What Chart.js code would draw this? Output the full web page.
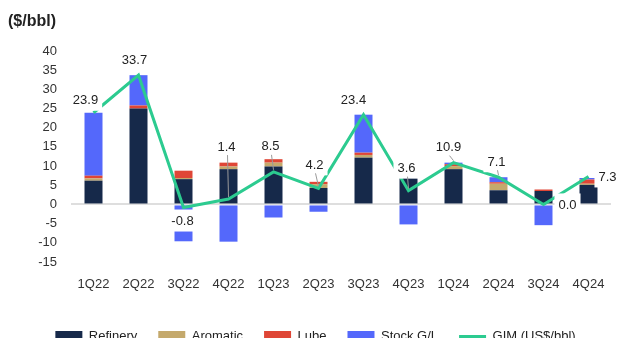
<!DOCTYPE html>
<html>
<head>
<meta charset="utf-8">
<script src="https://cdn.jsdelivr.net/npm/chart.js@4.4.0/dist/chart.umd.min.js"></script>
<style>
  html, body { margin: 0; padding: 0; background: #fff; overflow: hidden; }
  #wrap { position: relative; width: 620px; height: 353px; }
</style>
</head>
<body>
<div id="wrap"><canvas id="chart" width="620" height="353"></canvas></div>
<script>
// ---------- DATA ----------
const quarters = ["1Q22", "2Q22", "3Q22", "4Q22", "1Q23", "2Q23", "3Q23", "4Q23", "1Q24", "2Q24", "3Q24", "4Q24"];
const refinery = [6.2, 25.0, 6.6, 9.2, 9.9, 4.3, 12.2, 7.0, 9.2, 3.7, 3.5, 5.1];
const aromatic = [0.6, 0.0, 0.3, 0.7, 1.0, 1.0, 0.7, 0.0, 0.8, 1.7, 0.0, 0.3];
const lube = [0.7, 0.8, 1.9, 1.0, 0.9, 0.6, 0.6, 0.0, 0.5, 0.4, 0.4, 1.1];
const stockGL = [16.4, 7.9, -9.6, -9.7, -3.4, -1.9, 9.9, -5.2, 0.4, 1.3, -5.4, 0.4];
const gim = [23.9, 33.7, -0.8, 1.4, 8.5, 4.2, 23.4, 3.6, 10.9, 7.1, 0.0, 7.3];
const yTicks = [-15, -10, -5, 0, 5, 10, 15, 20, 25, 30, 35, 40];

// label placement relative to each GIM point (px)
const labelOffsets = [[-8, -13], [-4, -16], [-1, 13], [-2, -53], [-3, -26], [-4, -24],
                      [-10, -15], [-2, -23], [-5, -16], [-2, -16], [24, 0], [19, 0]];
const hasLeader = [false, false, false, true, true, true, false, true, true, true, false, false];

const FONT = "'Liberation Sans', Arial, sans-serif";
const C = {
  refinery: "#16294a",
  aromatic: "#c4a96c",
  lube: "#df4636",
  stock: "#5468fb",
  gim: "#2ccb90"
};

// ---------- PLUGINS ----------
const titlePlugin = {
  id: "unitTitle",
  afterDraw(chart) {
    const ctx = chart.ctx;
    ctx.save();
    ctx.font = "bold 16px " + FONT;
    ctx.fillStyle = "#222";
    ctx.textBaseline = "middle";
    ctx.textAlign = "left";
    ctx.fillText("($/bbl)", 8, 22);
    ctx.restore();
  }
};

const gimLabels = {
  id: "gimLabels",
  afterDatasetsDraw(chart) {
    const idx = chart.data.datasets.findIndex(d => d.type === "line");
    const meta = chart.getDatasetMeta(idx);
    const ctx = chart.ctx;
    ctx.save();
    ctx.font = "13px " + FONT;
    ctx.textAlign = "center";
    ctx.textBaseline = "middle";
    meta.data.forEach((pt, i) => {
      const txt = gim[i].toFixed(1);
      const lx = pt.x + labelOffsets[i][0];
      const ly = pt.y + labelOffsets[i][1];
      const w = ctx.measureText(txt).width + 8;
      const h = 22;
      ctx.fillStyle = "#fff";
      ctx.fillRect(lx - w / 2, ly - h / 2, w, h);
      ctx.fillStyle = "#222";
      ctx.fillText(txt, lx, ly + 1);
      if (hasLeader[i]) {
        ctx.strokeStyle = "#9a9a9a";
        ctx.lineWidth = 1;
        ctx.beginPath();
        ctx.moveTo(lx + 1, ly + 9);
        ctx.lineTo(pt.x, pt.y - 2);
        ctx.stroke();
      }
    });
    ctx.restore();
  }
};

// ---------- CHART ----------
function barSet(label, data, color) {
  return {
    type: "bar",
    label,
    data,
    backgroundColor: color,
    borderWidth: 0,
    barPercentage: 0.4,
    categoryPercentage: 1,
    stack: "gim-parts",
    order: 1
  };
}

new Chart(document.getElementById("chart"), {
  data: {
    labels: quarters,
    datasets: [
      barSet("Refinery", refinery, C.refinery),
      barSet("Aromatic", aromatic, C.aromatic),
      barSet("Lube", lube, C.lube),
      barSet("Stock G/L", stockGL, C.stock),
      {
        type: "line",
        label: "GIM (US$/bbl)",
        data: gim,
        borderColor: C.gim,
        backgroundColor: C.gim,
        borderWidth: 3,
        pointRadius: 0,
        tension: 0,
        stack: "gim-line",
        order: 0
      }
    ]
  },
  options: {
    responsive: false,
    animation: false,
    layout: { padding: { top: 51, right: 9, left: 20, bottom: 0 } },
    plugins: {
      tooltip: { enabled: false },
      legend: {
        position: "bottom",
        labels: {
          usePointStyle: true,
          pointStyleWidth: 27,
          boxHeight: 11,
          padding: 21,
          color: "#222",
          font: { size: 13, family: FONT },
          sort: (a, b) => a.datasetIndex - b.datasetIndex,
          generateLabels(chart) {
            const items = Chart.defaults.plugins.legend.labels.generateLabels(chart);
            return items.map(it => {
              const ds = chart.data.datasets[it.datasetIndex];
              if (ds.type === "line") {
                it.pointStyle = "line";
                it.lineWidth = 3;
                it.strokeStyle = C.gim;
              } else {
                it.pointStyle = "rect";
                it.lineWidth = 0;
              }
              return it;
            });
          }
        }
      }
    },
    scales: {
      x: {
        stacked: true,
        grid: { display: false },
        border: { display: false },
        ticks: { color: "#333", font: { size: 13, family: FONT }, padding: 7, maxRotation: 0 },
        afterFit(s) { s.height = 47; }
      },
      y: {
        stacked: true,
        min: -15,
        max: 40,
        afterBuildTicks(s) { s.ticks = yTicks.map(v => ({ value: v })); },
        grid: {
          drawTicks: false,
          lineWidth: 2,
          color: ctx => (ctx.tick && ctx.tick.value === 0 ? "#dedede" : "rgba(0,0,0,0)")
        },
        border: { display: false },
        ticks: { color: "#333", font: { size: 13, family: FONT }, padding: 14 },
        afterFit(s) { s.width = 51; }
      }
    }
  },
  plugins: [titlePlugin, gimLabels]
});
</script>
</body>
</html>
